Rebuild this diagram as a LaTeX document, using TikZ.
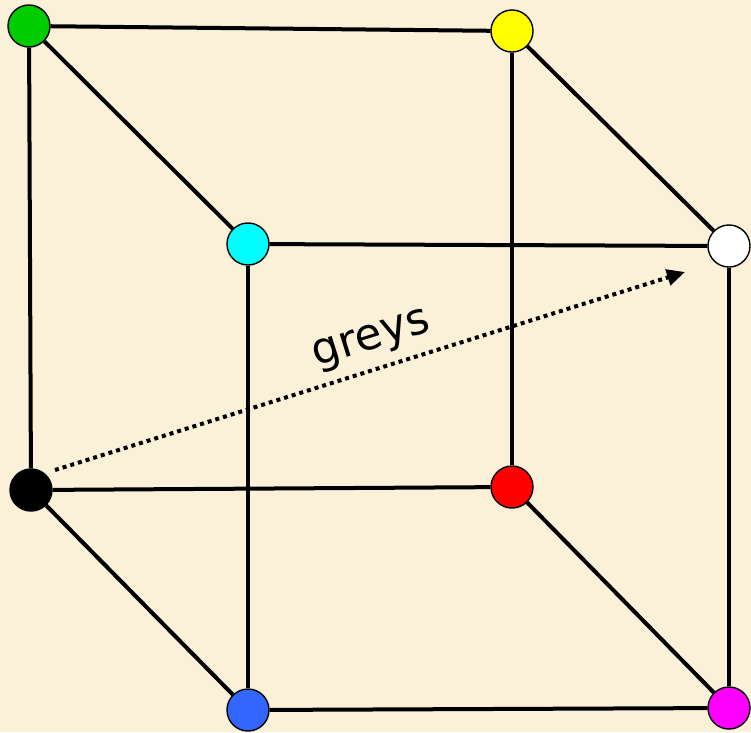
\documentclass[tikz,border=0pt]{standalone}
\usepackage{fontspec}
\setmainfont{DejaVu Sans}
\usetikzlibrary{arrows.meta}
\pgfdeclarelayer{bglayer}
\pgfdeclarelayer{edgelayer}
\pgfsetlayers{bglayer,edgelayer,main}
\definecolor{bg}{RGB}{251,241,216}
\definecolor{cgreen}{RGB}{0,204,0}
\definecolor{cyellow}{RGB}{255,255,0}
\definecolor{ccyan}{RGB}{0,255,255}
\definecolor{cblue}{RGB}{51,102,255}
\definecolor{cmag}{RGB}{255,0,255}
\definecolor{cred}{RGB}{255,0,0}
\tikzset{
  vert/.style={circle, draw=black, line width=0.4pt, minimum size=0.42cm, inner sep=0pt},
  edge/.style={line width=0.04cm, black},
}
\begin{document}
\begin{tikzpicture}[x=0.01cm,y=-0.01cm]
\begin{pgfonlayer}{bglayer}
\fill[bg] (0,0) rectangle (751,732);
\end{pgfonlayer}
\useasboundingbox (0,0) rectangle (751,732);
\node[vert, fill=cgreen] (g) at (29,26) {};
\node[vert, fill=cyellow] (y) at (512,31) {};
\node[vert, fill=ccyan] (c) at (248,244) {};
\node[vert, fill=white] (w) at (729,246) {};
\node[vert, fill=black] (k) at (31,490) {};
\node[vert, fill=cred] (r) at (512,487) {};
\node[vert, fill=cblue] (b) at (248,710) {};
\node[vert, fill=cmag] (m) at (729,708) {};
\begin{pgfonlayer}{edgelayer}
\draw[edge] (g) -- (y);
\draw[edge] (g) -- (k);
\draw[edge] (g) -- (c);
\draw[edge] (y) -- (w);
\draw[edge] (y) -- (r);
\draw[edge] (c) -- (w);
\draw[edge] (c) -- (b);
\draw[edge] (w) -- (m);
\draw[edge] (k) -- (r);
\draw[edge] (k) -- (b);
\draw[edge] (r) -- (m);
\draw[edge] (b) -- (m);
\end{pgfonlayer}
\coordinate (as) at (55,470);
\coordinate (ae) at (685,272);
\draw[line width=0.04cm, dash pattern=on 0.04cm off 0.04cm, -{Triangle[length=0.18cm,width=0.16cm]}] (as) -- (ae);
\node[rotate=17.4, font=\fontsize{12.5}{14}\selectfont, inner sep=0pt] (t) at (372,341) {greys};
\end{tikzpicture}
\end{document}
